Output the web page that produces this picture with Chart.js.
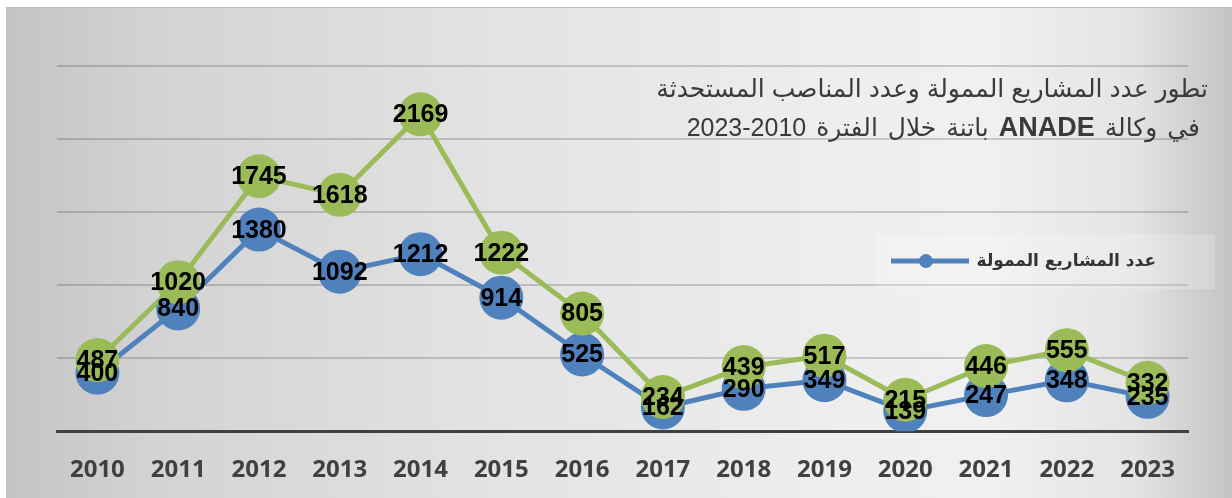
<!DOCTYPE html>
<html>
<head>
<meta charset="utf-8">
<script src="https://cdn.jsdelivr.net/npm/chart.js@4"></script>
<style>
    body { margin: 0; background: #ffffff; width: 1232px; height: 498px; overflow: hidden; position: relative; }
    #frame {
        position: absolute; left: 6px; top: 7px; width: 1226px; height: 491px;
        border-top: 1px solid #bdbdbd; border-left: 1px solid #bdbdbd;
        background: linear-gradient(to right, #c4c4c4 0%, #d3d3d3 12%, #e3e3e3 40%, #eeeeee 68%, #f0f0f0 80%, #e4e4e4 92%, #c3c3c3 100%);
    }
    #chart { display: block; }
    #title {
        position: absolute; right: 24px; top: 69px;
        direction: rtl; text-align: right;
        font-family: "Liberation Sans", "DejaVu Sans", sans-serif;
        font-size: 25px; line-height: 39px; color: #3a3a3a;
        white-space: nowrap;
    }
    #title .second { padding-right: 8px; word-spacing: 3px; }
    #title b { font-weight: bold; font-size: 27px; }
</style>
</head>
<body>
<div id="frame">
    <canvas id="chart" width="1226" height="490"></canvas>
</div>
<div id="title">
    <div>تطور عدد المشاريع الممولة وعدد المناصب المستحدثة</div>
    <div class="second">في وكالة <b>ANADE</b> باتنة خلال الفترة 2010-2023</div>
</div>
<script>
const years = ["2010", "2011", "2012", "2013", "2014", "2015", "2016", "2017", "2018", "2019", "2020", "2021", "2022", "2023"];
const projects = [400, 840, 1380, 1092, 1212, 914, 525, 162, 290, 349, 139, 247, 348, 235];
const jobs = [487, 1020, 1745, 1618, 2169, 1222, 805, 234, 439, 517, 215, 446, 555, 332];
const projectsLabel = "عدد المشاريع الممولة";
const jobsLabel = "عدد المناصب المستحدثة";

const blue = "#4f81bd";
const green = "#9bbb59";

// numbers written on top of every point
const valueLabels = {
    id: "valueLabels",
    afterDatasetsDraw(chart) {
        const ctx = chart.ctx;
        ctx.save();
        ctx.font = "bold 25px 'Liberation Sans', Arial, sans-serif";
        ctx.fillStyle = "#000000";
        ctx.textAlign = "center";
        ctx.textBaseline = "middle";
        chart.data.datasets.forEach((ds, i) => {
            const meta = chart.getDatasetMeta(i);
            meta.data.forEach((pt, j) => {
                ctx.fillText(ds.data[j], pt.x, pt.y + 1);
            });
        });
        ctx.restore();
    }
};

// legend box with only the first series, as in the picture
const sideLegend = {
    id: "sideLegend",
    afterDraw(chart) {
        const ctx = chart.ctx;
        const area = chart.chartArea;
        const right = area.right + 27;
        const top = chart.scales.y.getPixelForValue(1500) + 22;
        ctx.save();
        ctx.fillStyle = "rgba(255,255,255,0.2)";
        ctx.fillRect(right - 339, top, 339, 55);
        const y = top + 27;
        ctx.strokeStyle = blue;
        ctx.lineWidth = 5;
        ctx.beginPath();
        ctx.moveTo(right - 324, y);
        ctx.lineTo(right - 246, y);
        ctx.stroke();
        ctx.fillStyle = blue;
        ctx.beginPath();
        ctx.arc(right - 289, y, 7, 0, Math.PI * 2);
        ctx.fill();
        ctx.fillStyle = "#333333";
        ctx.font = "bold 17px 'DejaVu Sans', sans-serif";
        ctx.direction = "rtl";
        ctx.textAlign = "right";
        ctx.textBaseline = "middle";
        ctx.fillText(projectsLabel, right - 59, y);
        ctx.restore();
    }
};

new Chart(document.getElementById("chart"), {
    type: "line",
    data: {
        labels: years,
        datasets: [{
            label: projectsLabel,
            data: projects,
            borderColor: blue,
            backgroundColor: blue,
            borderWidth: 5,
            pointRadius: 22,
            pointBorderWidth: 0,
            pointBackgroundColor: blue,
            order: 1,
        }, {
            label: jobsLabel,
            data: jobs,
            borderColor: green,
            backgroundColor: green,
            borderWidth: 5,
            pointRadius: 22,
            pointBorderWidth: 0,
            pointBackgroundColor: green,
            order: 0,
        }],
    },
    options: {
        responsive: false,
        animation: false,
        layout: {
            padding: { left: 50, right: 45, top: 58, bottom: -12 }
        },
        plugins: {
            legend: { display: false },
            tooltip: { enabled: false },
        },
        scales: {
            x: {
                offset: true,
                grid: { display: false, drawTicks: false },
                border: { color: "#404040", width: 3 },
                ticks: {
                    color: "#404040",
                    padding: 25,
                    font: { family: "'Open Sans', sans-serif", weight: "bold", size: 24 },
                },
            },
            y: {
                min: 0,
                max: 2500,
                ticks: { display: false, stepSize: 500 },
                border: { display: false },
                grid: { color: "rgba(0,0,0,0.17)", lineWidth: 2, drawTicks: false },
            },
        },
    },
    plugins: [valueLabels, sideLegend],
});
</script>
</body>
</html>
